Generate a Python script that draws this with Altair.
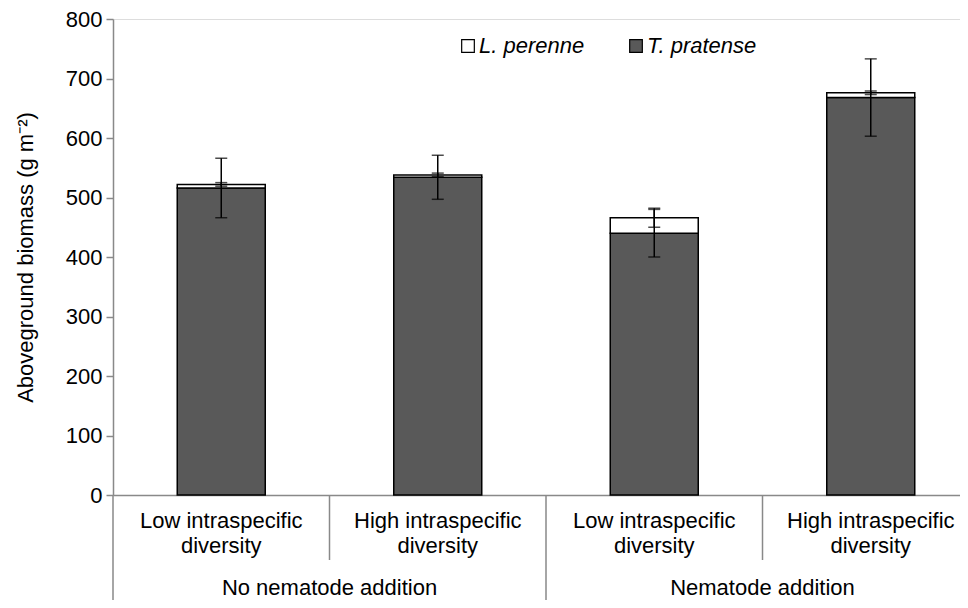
import altair as alt
import pandas as pd

# ---- data ----
keys = ["NoLow", "NoHigh", "NemLow", "NemHigh"]
diversity = ["Low intraspecific\ndiversity", "High intraspecific\ndiversity",
             "Low intraspecific\ndiversity", "High intraspecific\ndiversity"]
group_names = ["No nematode addition", "Nematode addition"]
group_anchor = ["NoHigh", "NemHigh"]          # label sits at the left edge of these bands
t_pratense = [516, 534, 440, 668]
t_pratense_se = [50, 37, 40, 65]
l_perenne = [6, 4, 26, 8]
l_perenne_se = [3, 3, 16, 3]
species = ["L. perenne", "T. pratense"]
colors = ["#ffffff", "#595959"]
y_ticks = [0, 100, 200, 300, 400, 500, 600, 700, 800]

FONT = "Liberation Sans"
FS = 22
W, H = 847, 476
XR = 866                       # x range runs a little past the visible page, as in the reference
AXIS_GREY = "#898989"

# ---- tables built from the arrays ----
bars = []
errs = []
for i, k in enumerate(keys):
    bars.append({"key": k, "species": "T. pratense", "y0": 0, "y1": t_pratense[i]})
    top = t_pratense[i] + l_perenne[i]
    bars.append({"key": k, "species": "L. perenne", "y0": t_pratense[i], "y1": top})
    errs.append({"key": k, "lo": t_pratense[i] - t_pratense_se[i], "hi": t_pratense[i] + t_pratense_se[i]})
    errs.append({"key": k, "lo": top - l_perenne_se[i], "hi": top + l_perenne_se[i]})
bars = pd.DataFrame(bars)
errs = pd.DataFrame(errs)
labels = pd.DataFrame({"key": keys, "label": diversity})
groups = pd.DataFrame({"key": group_anchor, "label": group_names})
sep_short = pd.DataFrame({"key": [keys[1], keys[3]]})
sep_long = pd.DataFrame({"key": [keys[2]]})

xscale = alt.Scale(domain=keys, range=[0, XR], paddingInner=0, paddingOuter=0)
yscale = alt.Scale(domain=[0, 800], nice=False)

x_enc = alt.X("key:N", scale=xscale,
              axis=alt.Axis(labels=False, ticks=False, title=None, domainColor=AXIS_GREY,
                            domainWidth=1.5))

bar_layer = alt.Chart(bars).mark_bar(width=88, stroke="black", strokeWidth=1.5).encode(
    x=x_enc,
    y=alt.Y("y0:Q", scale=yscale,
            axis=alt.Axis(values=y_ticks, grid=False, title="Aboveground biomass (g m⁻²)",
                          domainColor=AXIS_GREY, domainWidth=1.5, tickColor=AXIS_GREY,
                          tickWidth=1.5, tickSize=7, labelPadding=4, labelFont=FONT,
                          labelFontSize=FS, labelColor="black", titleFont=FONT,
                          titleFontSize=FS, titleFontWeight="normal", titleColor="black",
                          titlePadding=28)),
    y2="y1:Q",
    fill=alt.Fill("species:N", scale=alt.Scale(domain=species, range=colors),
                  legend=alt.Legend(orient="none", legendX=344, legendY=16,
                                    direction="horizontal", title=None,
                                    symbolType="square", symbolSize=160,
                                    symbolStrokeColor="black", symbolStrokeWidth=1.2,
                                    labelFont=FONT, labelFontSize=FS,
                                    labelFontStyle="italic", labelColor="black",
                                    labelOffset=0, columnPadding=40, padding=0)),
    order=alt.Order("y0:Q"),
)

err_rule = alt.Chart(errs).mark_rule(color="black", strokeWidth=1.5).encode(
    x=alt.X("key:N", scale=xscale), y=alt.Y("lo:Q", scale=yscale), y2="hi:Q")
cap_lo = alt.Chart(errs).mark_tick(orient="horizontal", size=12, thickness=1.5, color="black").encode(
    x=alt.X("key:N", scale=xscale), y=alt.Y("lo:Q", scale=yscale))
cap_hi = alt.Chart(errs).mark_tick(orient="horizontal", size=12, thickness=1.5, color="black").encode(
    x=alt.X("key:N", scale=xscale), y=alt.Y("hi:Q", scale=yscale))

sep1 = alt.Chart(sep_short).mark_rule(color=AXIS_GREY, strokeWidth=1.5).encode(
    x=alt.X("key:N", scale=xscale, bandPosition=0),
    y=alt.value(H), y2=alt.value(H + 65))
sep2 = alt.Chart(sep_long).mark_rule(color=AXIS_GREY, strokeWidth=1.5).encode(
    x=alt.X("key:N", scale=xscale, bandPosition=0),
    y=alt.value(H), y2=alt.value(H + 130))
yext = alt.Chart(sep_long).mark_rule(color=AXIS_GREY, strokeWidth=1.5).encode(
    x=alt.value(0), y=alt.value(H), y2=alt.value(H + 130))

cat_text = alt.Chart(labels).mark_text(lineBreak="\n", baseline="top", font=FONT, fontSize=FS,
                                       lineHeight=25, color="black").encode(
    x=alt.X("key:N", scale=xscale), y=alt.value(H + 16), text="label:N")
grp_text = alt.Chart(groups).mark_text(baseline="alphabetic", font=FONT, fontSize=FS,
                                       color="black").encode(
    x=alt.X("key:N", scale=xscale, bandPosition=0), y=alt.value(H + 100), text="label:N")

chart = alt.layer(bar_layer, err_rule, cap_lo, cap_hi, sep1, sep2, yext, cat_text, grp_text).properties(
    width=W, height=H,
    autosize=alt.AutoSizeParams(type="none"),
    padding={"left": 105, "top": 11, "right": 0, "bottom": 105},
).configure_view(stroke=None).configure(background="white")

chart.save("out.html", embed_options={"renderer": "svg", "actions": False})
